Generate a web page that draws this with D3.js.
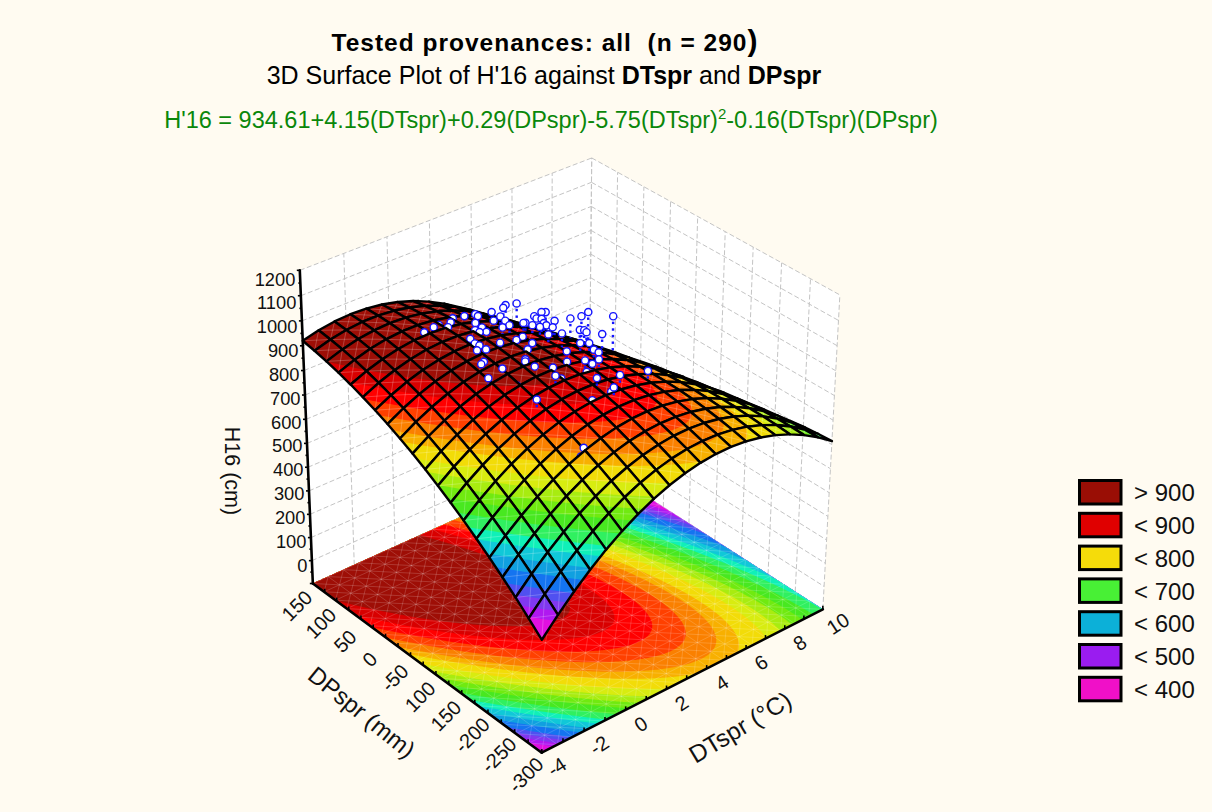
<!DOCTYPE html>
<html><head><meta charset="utf-8">
<script src="https://cdn.jsdelivr.net/npm/d3@7"></script>
<style>
html,body{margin:0;padding:0;background:#FFFBF1;}
svg{display:block;font-family:"Liberation Sans",Arial,sans-serif;}
</style></head><body>
<svg id="c" width="1212" height="812"></svg>
<script>
// ---- data ----
const modelCoef = {c:934.61,t:4.15,p:0.29,tt:-5.75,tp:-0.16,pp:-0.002};
const tTicks = [-4,-2,0,2,4,6,8,10];
const tLabels = ["-4","-2","0","2","4","6","8","10"];
const pTicks = [150,100,50,0,-50,-100,-150,-200,-250,-300];
const pLabels = ["150","100","50","0","-50","100","150","-200","-250","-300"];
const zTicks = [0,100,200,300,400,500,600,700,800,900,1000,1100,1200];
const legendLabels = ["> 900","< 900","< 800","< 700","< 600","< 500","< 400"];
const legendColors = ["#9A0E05","#E00000","#F5DC0A","#48F035","#0CB0D8","#9A1CF0","#F010C8"];
const bandEdges = [420,445,470,495,530,560,590,615,645,675,700,725,750,780,800,825,850,875,900];
const bandColors = ["#E010E0","#B018F0","#8038F0","#5050F0","#1474F0","#10A0E0","#10C8D8","#10F0B8","#30F060","#48E820","#70EA10","#A8EC10","#D8EC10","#F2DC08","#F8B000","#FA8000","#FF4000","#FF0000","#D80000","#9E0E06"];
const pointT = [3.93,3.53,3.33,2.79,1.84,1.85,1.45,1.01,.77,.31,.06,.47,-.46,1.45,2.08,2.47,2.41,2.32,2.02,1.43,1.11,1.15,1.36,.58,.50,.54,.25,1.25,.55,2.83,2.89,3.83,3.79,4.24,4.36,4.2,2.98,3.84,3.10,3.44,2.26,1.93,2.24,1.82,4.77,5.2,5.6,6.12,4.5,4.61,4.58,4.94,3.70,4.05,3.78,3.79,3.47,2.46,2.93,3.08,3.03,.11,-.07,.33,1.39,1.29,1.33,1.8,1.5,-.49,1.88,2.74,3.53,4.51,2.92,2.79,.34,.10,2.02,.42,.14,2.91,3.92,3.78,3.49,3.75];
const pointP = [59.2,64.8,61.2,62.2,50.3,55.9,60.7,65.4,59.6,63.7,63.3,52.4,60.2,39.4,29.6,32.4,20.7,9,10.2,25.9,26.1,19.2,14.5,14,2,-5.2,-12.4,-15.9,-17.4,2.6,1.1,21.4,15.4,23.6,20.3,-2.9,-8.5,-13.3,-34,-46.2,-18.6,-19.8,-37.5,-45.3,-10.8,-15.2,-12.7,-39.8,-39,-43,-48.4,-63.9,-70.4,-73.6,-92.5,-101,-113.6,-93.7,-75,-116.4,-105,-30.9,-33.2,-57,-58,-61.6,-77.8,-93.3,-109.6,-63.5,-105.7,-137.8,-149.9,-163.7,-112.3,-166.6,-84,-129.9,-157,-203,-208.5,-157.5,10.9,1.3,-2.8,-4.9];
const pointH = [914,914,914,914,946,946,946,946,946,946,946,946,948,946,946,946,946,946,946,946,946,946,946,946,946,946,946,946,946,946,946,914,914,914,914,914,946,914,938,946,938,938,938,938,914,914,914,914,914,914,914,914,930,922,930,930,930,930,930,930,930,930,930,930,930,930,930,930,930,930,900,914,914,914,898,914,898,914,878,812,796,880,914,914,914,914];

// ---- projection (box coordinates u,v,w in 0..1 -> screen) ----
const vanishU=[5148,-1596], vanishV=[-2780,-1703], vanishW=[535,5923], originXY=[541.7,752.7], persp=[0.065,0.074,-0.0595];
const U=d3.scaleLinear([-4,10],[0,1]), V=d3.scaleLinear([-300,150],[0,1]), W=d3.scaleLinear([-100,1200],[0,1]);
function depth(u,v,w){return 1+persp[0]*u+persp[1]*v+persp[2]*w;}
function proj(u,v,w){const d=depth(u,v,w);return [0,1].map(i=>(persp[0]*u*vanishU[i]+persp[1]*v*vanishV[i]+persp[2]*w*vanishW[i]+originXY[i])/d);}
const surf=(t,p)=>modelCoef.c+modelCoef.t*t+modelCoef.p*p+modelCoef.tt*t*t+modelCoef.tp*t*p+modelCoef.pp*p*p;
const P3=(t,p,z)=>proj(U(t),V(p),W(z));
const pathOf=pts=>"M"+pts.map(p=>p[0].toFixed(2)+","+p[1].toFixed(2)).join("L")+"Z";
const svg=d3.select("#c");
const bg="#FFFBF1";
svg.append("rect").attr("width",1212).attr("height",812).attr("fill",bg);

// ---- walls ----
const tMin=-4,tMax=10,pMin=-300,pMax=150,zMin=-100,zMax=1200;
const walls=svg.append("g");
walls.append("path").attr("d",pathOf([P3(tMin,pMax,zMin),P3(tMax,pMax,zMin),P3(tMax,pMax,zMax),P3(tMin,pMax,zMax)])).attr("fill","#fff");
walls.append("path").attr("d",pathOf([P3(tMax,pMax,zMin),P3(tMax,pMin,zMin),P3(tMax,pMin,zMax),P3(tMax,pMax,zMax)])).attr("fill","#fff");
const gridLines=[];
[zMin].concat(zTicks).forEach(z=>{gridLines.push([P3(tMin,pMax,z),P3(tMax,pMax,z)]);gridLines.push([P3(tMax,pMax,z),P3(tMax,pMin,z)]);});
tTicks.forEach(t=>gridLines.push([P3(t,pMax,zMin),P3(t,pMax,zMax)]));
pTicks.forEach(p=>gridLines.push([P3(tMax,p,zMin),P3(tMax,p,zMax)]));
walls.selectAll("line").data(gridLines).join("line")
 .attr("x1",d=>d[0][0]).attr("y1",d=>d[0][1]).attr("x2",d=>d[1][0]).attr("y2",d=>d[1][1])
 .attr("stroke","#c4c4c4").attr("stroke-width",1).attr("stroke-dasharray","5,2.5");

// ---- band helpers ----
function bandPaths(n,tA,tB,pA,pB,heightFn){
  const vals=new Float64Array(n*n);
  let lo=Infinity,hi=-Infinity;
  for(let j=0;j<n;j++)for(let i=0;i<n;i++){
    const z=surf(tA+(tB-tA)*i/(n-1),pA+(pB-pA)*j/(n-1));vals[j*n+i]=z;lo=Math.min(lo,z);hi=Math.max(hi,z);}
  const out=[];
  const baseIdx=d3.bisectRight(bandEdges,lo);
  const th=bandEdges.filter(e=>e>lo&&e<=hi);
  if(th.length){
    const cs=d3.contours().size([n,n]).smooth(true).thresholds(th)(Array.from(vals));
    cs.forEach(c=>{
      const idx=d3.bisectLeft(bandEdges,c.value)+1;
      let d="";
      c.coordinates.forEach(poly=>poly.forEach(ring=>{
        d+=pathOf(ring.map(q=>{
          const fx=Math.max(0,Math.min(1,(q[0]-.5)/(n-1))),fy=Math.max(0,Math.min(1,(q[1]-.5)/(n-1)));
          const t=tA+(tB-tA)*fx,p=pA+(pB-pA)*fy;return P3(t,p,heightFn(t,p));}));
      }));
      if(d)out.push({d,fill:bandColors[idx]});
    });
  }
  return {base:bandColors[baseIdx],bands:out};
}

// ---- floor ----
const floor=svg.append("g");
const fb=bandPaths(241,tMin,tMax,pMin,pMax,()=>zMin);
floor.append("path").attr("d",pathOf([P3(tMin,pMin,zMin),P3(tMax,pMin,zMin),P3(tMax,pMax,zMin),P3(tMin,pMax,zMin)])).attr("fill",fb.base);
floor.selectAll("path.b").data(fb.bands).join("path").attr("class","b").attr("d",d=>d.d).attr("fill",d=>d.fill).attr("fill-rule","evenodd");
const cells=19, dT=(tMax-tMin)/cells, dP=(pMax-pMin)/cells;
const mesh=[];
for(let i=0;i<=cells;i++){
  mesh.push([P3(tMin+i*dT,pMin,zMin),P3(tMin+i*dT,pMax,zMin)]);
  mesh.push([P3(tMin,pMin+i*dP,zMin),P3(tMax,pMin+i*dP,zMin)]);
}
for(let i=0;i<cells;i++)for(let j=0;j<cells;j++){
  mesh.push([P3(tMin+i*dT,pMin+j*dP,zMin),P3(tMin+(i+1)*dT,pMin+(j+1)*dP,zMin)]);
  mesh.push([P3(tMin+(i+1)*dT,pMin+j*dP,zMin),P3(tMin+i*dT,pMin+(j+1)*dP,zMin)]);
}
floor.append("path").attr("d",mesh.map(m=>"M"+m[0]+"L"+m[1]).join("")).attr("stroke","#fff").attr("stroke-opacity",.17).attr("stroke-width",1).attr("fill","none");

// ---- axes ----
const axes=svg.append("g");
const axisLine=(a,b)=>axes.append("line").attr("x1",a[0]).attr("y1",a[1]).attr("x2",b[0]).attr("y2",b[1]).attr("stroke","#000").attr("stroke-width",2.6).attr("stroke-linecap","round");
axisLine(P3(tMin,pMax,zMin),P3(tMin,pMin,zMin));
axisLine(P3(tMin,pMin,zMin),P3(tMax,pMin,zMin));
axisLine(P3(tMin,pMax,zMin),P3(tMin,pMax,zMax));
const tick=(a,dx,dy)=>axes.append("line").attr("x1",a[0]).attr("y1",a[1]).attr("x2",a[0]+dx).attr("y2",a[1]+dy).attr("stroke","#000").attr("stroke-width",1.6);
d3.range(tMin,tMax+.01,1).forEach(t=>tick(P3(t,pMin,zMin),0,-3.5));
d3.range(pMin,pMax+.01,25).forEach(p=>tick(P3(tMin,p,zMin),0,-3.5));
d3.range(zMin,zMax+.01,50).forEach(z=>{const q=P3(tMin,pMax,z);tick(q,z%100===0?-3:-2,0);});
const labelSize=20;
tTicks.forEach((t,i)=>{const q=P3(t,pMin,zMin);
  axes.append("text").attr("transform",`translate(${q[0]+15},${q[1]+14}) rotate(-33)`).attr("text-anchor","middle").attr("dy","0.36em").attr("font-size",labelSize).attr("fill","#111").text(tLabels[i]);});
pTicks.forEach((p,i)=>{const q=P3(tMin,p,zMin);
  axes.append("text").attr("transform",`translate(${q[0]-16},${q[1]+22}) rotate(-45)`).attr("text-anchor","middle").attr("dy","0.36em").attr("font-size",labelSize).attr("fill","#111").text(pLabels[i]);});
const zLabelY=d3.scaleLinear([0,1200],[565,279]);
zTicks.forEach(z=>{const q=P3(tMin,pMax,z);
  axes.append("text").attr("x",q[0]-4.5).attr("y",zLabelY(z)).attr("text-anchor","end").attr("dy","0.36em").attr("font-size",18.3).attr("fill","#111").text(z);});
axes.append("text").attr("transform","translate(233,471) rotate(90)").attr("text-anchor","middle").attr("dy","0.36em").attr("font-size",21.5).attr("fill","#111").text("H16 (cm)");
axes.append("text").attr("transform","translate(362,712) rotate(39)").attr("text-anchor","middle").attr("dy","0.36em").attr("font-size",24).attr("fill","#111").text("DPspr (mm)");
axes.append("text").attr("transform","translate(740,727) rotate(-31)").attr("text-anchor","middle").attr("dy","0.36em").attr("font-size",24.5).attr("fill","#111").text("DTspr (°C)");

// ---- surface + points, painter's order ----
const items=[];
for(let i=0;i<cells;i++)for(let j=0;j<cells;j++){
  const tA=tMin+i*dT,tB=tA+dT,pA=pMin+j*dP,pB=pA+dP;
  const corners=[[tA,pA],[tB,pA],[tB,pB],[tA,pB]];
  const scr=corners.map(c=>P3(c[0],c[1],surf(c[0],c[1])));
  if(d3.polygonArea(scr)<0)continue;
  const tM=tA+dT/2,pM=pA+dP/2;
  items.push({type:"cell",key:depth(U(tM),V(pM),W(surf(tM,pM))),tA,tB,pA,pB,scr});
}
pointT.forEach((t,i)=>{
  const p=pointP[i],z=pointH[i],s=surf(t,p);
  items.push({type:"mark",key:depth(U(t),V(p),W(z))-1e-5,q:P3(t,p,z)});
  if(s<z){
    const a=P3(t,p,z),b=P3(t,p,s),len=Math.hypot(a[0]-b[0],a[1]-b[1]),n=Math.floor(len/6.6);
    for(let k=1;k<=n;k++){const f=k/Math.max(n,1)*Math.min(1,n*6.6/len);const zz=z+(s-z)*f;
      items.push({type:"dot",key:depth(U(t),V(p),W(zz)),q:P3(t,p,zz)});}
  }
});
items.sort((a,b)=>b.key-a.key);
const scene=svg.append("g");
items.forEach(it=>{
  if(it.type==="cell"){
    const g=scene.append("g");
    const r=bandPaths(7,it.tA,it.tB,it.pA,it.pB,surf);
    g.append("path").attr("d",pathOf(it.scr)).attr("fill",r.base);
    r.bands.forEach(b=>g.append("path").attr("d",b.d).attr("fill",b.fill).attr("fill-rule","evenodd"));
    g.append("path").attr("d",`M${it.scr[0]}L${it.scr[2]}M${it.scr[1]}L${it.scr[3]}`).attr("stroke","#fff").attr("stroke-opacity",.22).attr("stroke-width",1);
    g.append("path").attr("d",pathOf(it.scr)).attr("fill","none").attr("stroke","#000").attr("stroke-width",2.4).attr("stroke-linejoin","round");
  } else if(it.type==="dot"){
    scene.append("rect").attr("x",it.q[0]-1.2).attr("y",it.q[1]-1.2).attr("width",2.4).attr("height",2.4).attr("fill","#1414FF");
  } else {
    scene.append("circle").attr("cx",it.q[0]).attr("cy",it.q[1]).attr("r",3.6).attr("fill","#fff").attr("stroke","#1414FF").attr("stroke-width",1.4);
  }
});

// ---- legend ----
const legend=svg.append("g");
legendLabels.forEach((l,i)=>{
  const y=480.5+i*32.8;
  legend.append("rect").attr("x",1079.5).attr("y",y).attr("width",41.5).attr("height",23.5).attr("fill",legendColors[i]).attr("stroke","#000").attr("stroke-width",3);
  legend.append("text").attr("x",1134).attr("y",y+12).attr("dy","0.36em").attr("font-size",24).attr("fill","#111").text(l);
});

// ---- titles ----
const t1=svg.append("text").attr("x",545).attr("y",51).attr("text-anchor","middle").attr("font-size",24.5).attr("font-weight","bold").attr("letter-spacing",1).attr("xml:space","preserve").attr("fill","#000");
t1.append("tspan").text("Tested provenances: all  (n = 290");
t1.append("tspan").attr("font-size",30).text(")");
const t2=svg.append("text").attr("x",544).attr("y",84).attr("text-anchor","middle").attr("font-size",25).attr("fill","#000");
t2.append("tspan").text("3D Surface Plot of H'16 against ");
t2.append("tspan").attr("font-weight","bold").text("DTspr");
t2.append("tspan").text(" and ");
t2.append("tspan").attr("font-weight","bold").text("DPspr");
const t3=svg.append("text").attr("x",551).attr("y",128).attr("text-anchor","middle").attr("font-size",23.5).attr("fill","#0A870A");
t3.append("tspan").text("H'16 = 934.61+4.15(DTspr)+0.29(DPspr)-5.75(DTspr)");
t3.append("tspan").attr("font-size",15).attr("dy",-9).text("2");
t3.append("tspan").attr("dy",9).text("-0.16(DTspr)(DPspr)");
</script>
</body></html>
